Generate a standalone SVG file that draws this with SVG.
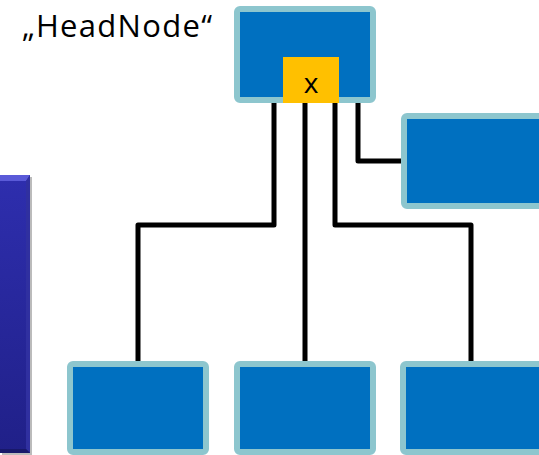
<svg xmlns="http://www.w3.org/2000/svg" width="539" height="455" viewBox="0 0 539 455">
<defs>
<style>
.node{fill:#0070C0;stroke:#8DC6CE;stroke-width:6}
.conn{fill:none;stroke:#000;stroke-width:5;stroke-linejoin:round}
.lbl{font-family:"Open Sans","Liberation Sans",Arial,sans-serif;fill:#000}
</style>
<linearGradient id="bar" x1="0" y1="0" x2="0" y2="1">
<stop offset="0" stop-color="#2E2EAE"/>
<stop offset="1" stop-color="#202088"/>
</linearGradient>
</defs>
<g id="sidebar">
<rect x="2" y="177" width="30" height="278" fill="#bbb"/>
<rect x="0" y="175" width="30" height="278" fill="url(#bar)"/>
<polygon points="0,175 30,175 26,181 0,181" fill="#5A5AD8"/>
<polygon points="26,181 30,175 30,453 26,449" fill="#3030A0"/>
<polygon points="0,449 26,449 30,453 0,453" fill="#18186A"/>
</g>
<text class="lbl" x="22" y="37" font-size="31" textLength="190" lengthAdjust="spacing">„HeadNode“</text>
<g id="connectors">
<path class="conn" d="M274,102 V225 H138 V361"/>
<path class="conn" d="M305,102 V361"/>
<path class="conn" d="M335,102 V225 H471 V361"/>
<path class="conn" d="M358,102 V161 H401"/>
</g>
<g id="headnode">
<rect class="node" x="237" y="9" width="136" height="91" rx="3"/>
<rect x="283" y="57" width="56" height="46" fill="#FFC000"/>
<text class="lbl" x="311" y="93" font-size="28" text-anchor="middle">x</text>
</g>
<g id="node-right">
<rect class="node" x="404" y="116" width="138" height="90" rx="3"/>
</g>
<g id="node-bottom-left">
<rect class="node" x="70" y="364" width="136" height="88" rx="3"/>
</g>
<g id="node-bottom-middle">
<rect class="node" x="237" y="364" width="136" height="88" rx="3"/>
</g>
<g id="node-bottom-right">
<rect class="node" x="403" y="364" width="139" height="88" rx="3"/>
</g>
</svg>
